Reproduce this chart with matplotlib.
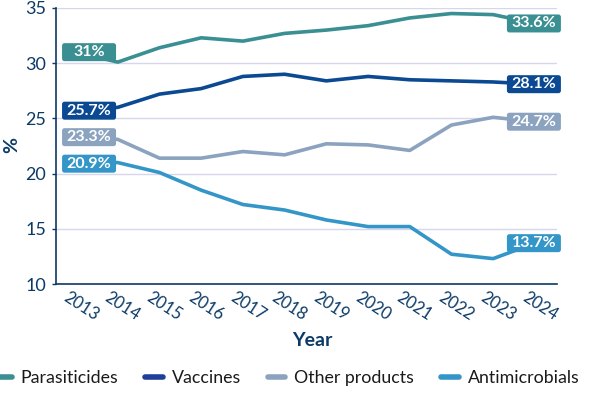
import matplotlib.pyplot as plt
import matplotlib.transforms as mtransforms
from matplotlib.patches import FancyBboxPatch
from matplotlib.lines import Line2D

plt.rcParams['font.family'] = ['Lato', 'DejaVu Sans']

years = list(range(2013, 2025))
parasiticides = [31.0, 30.1, 31.4, 32.3, 32.0, 32.7, 33.0, 33.4, 34.1, 34.5, 34.4, 33.6]
vaccines = [25.7, 26.0, 27.2, 27.7, 28.8, 29.0, 28.4, 28.8, 28.5, 28.4, 28.3, 28.1]
other_products = [23.3, 23.1, 21.4, 21.4, 22.0, 21.7, 22.7, 22.6, 22.1, 24.4, 25.1, 24.7]
antimicrobials = [20.9, 21.0, 20.1, 18.5, 17.2, 16.7, 15.8, 15.2, 15.2, 12.7, 12.3, 13.7]

names = ['Parasiticides', 'Vaccines', 'Other products', 'Antimicrobials']
series = [parasiticides, vaccines, other_products, antimicrobials]
colors = ['#3a8f92', '#0b4a92', '#8ba3bf', '#3496c8']
legend_colors = ['#3a8f92', '#1f3f98', '#8ba3bf', '#3496c8']
start_labels = ['31%', '25.7%', '23.3%', '20.9%']
end_labels = ['33.6%', '28.1%', '24.7%', '13.7%']

navy = '#0c3a66'

fig = plt.figure(figsize=(5.91, 3.96), dpi=100)
ax = fig.add_axes([0.0948, 0.2828, 0.8477, 0.697])

for ys, c in zip(series, colors):
    ax.plot(years, ys, color=c, lw=2.6, solid_joinstyle='round', solid_capstyle='round', zorder=3)

ax.set_xlim(2012.52, 2024.53)
ax.set_ylim(10, 35)
ax.set_yticks([10, 15, 20, 25, 30, 35])
ax.set_xticks(years)
ax.grid(axis='y', color='#d6d6ec', lw=1)
ax.set_axisbelow(True)
for s in ['top', 'right']:
    ax.spines[s].set_visible(False)
for s in ['left', 'bottom']:
    ax.spines[s].set_color(navy)
    ax.spines[s].set_linewidth(1.2)
ax.tick_params(axis='y', colors=navy, labelsize=13, length=3, width=1, pad=4)
ax.tick_params(axis='x', colors=navy, length=0, pad=4)
ax.set_xticklabels([str(y) for y in years], rotation=-33, ha='left', va='top',
                   rotation_mode='anchor', fontsize=12, color=navy)
for lab in ax.get_xticklabels():
    lab.set_transform(lab.get_transform() + mtransforms.ScaledTranslation(-0.07, 0.0, fig.dpi_scale_trans))

fig.text(0.528, 1 - 340 / 396, 'Year', ha='center', va='center', fontsize=14,
         fontweight='bold', color=navy)
fig.text(12 / 591, 1 - 145 / 396, '%', ha='center', va='center', fontsize=14,
         fontweight='bold', color=navy, rotation=90)

bw, bh = 0.54, 0.18


def value_box(x, y, text, color, dx):
    trans = fig.dpi_scale_trans + mtransforms.ScaledTranslation(x, y, ax.transData)
    box = FancyBboxPatch((dx - bw / 2, -bh / 2), bw, bh,
                         boxstyle='round,pad=0,rounding_size=0.025',
                         transform=trans, facecolor=color, edgecolor='none',
                         zorder=5, clip_on=False)
    ax.add_patch(box)
    ax.text(dx, 0.0, text, transform=trans, ha='center', va='center',
            color='white', fontsize=11.5, fontweight='bold', zorder=6)


for ys, c, sl, el in zip(series, colors, start_labels, end_labels):
    value_box(years[0], ys[0], sl, c, 0.13)
    value_box(years[-1], ys[-1], el, c, -0.01)

handles = [Line2D([0], [0], color=c, lw=4, solid_capstyle='round') for c in legend_colors]
fig.legend(handles, names, loc='center', bbox_to_anchor=(0.485, 1 - 378 / 396), ncol=4,
           frameon=False, fontsize=12.8, handlelength=1.0, handletextpad=0.5,
           columnspacing=1.5, labelcolor='#1a1a1a')

fig.savefig('out.png', dpi=100)
